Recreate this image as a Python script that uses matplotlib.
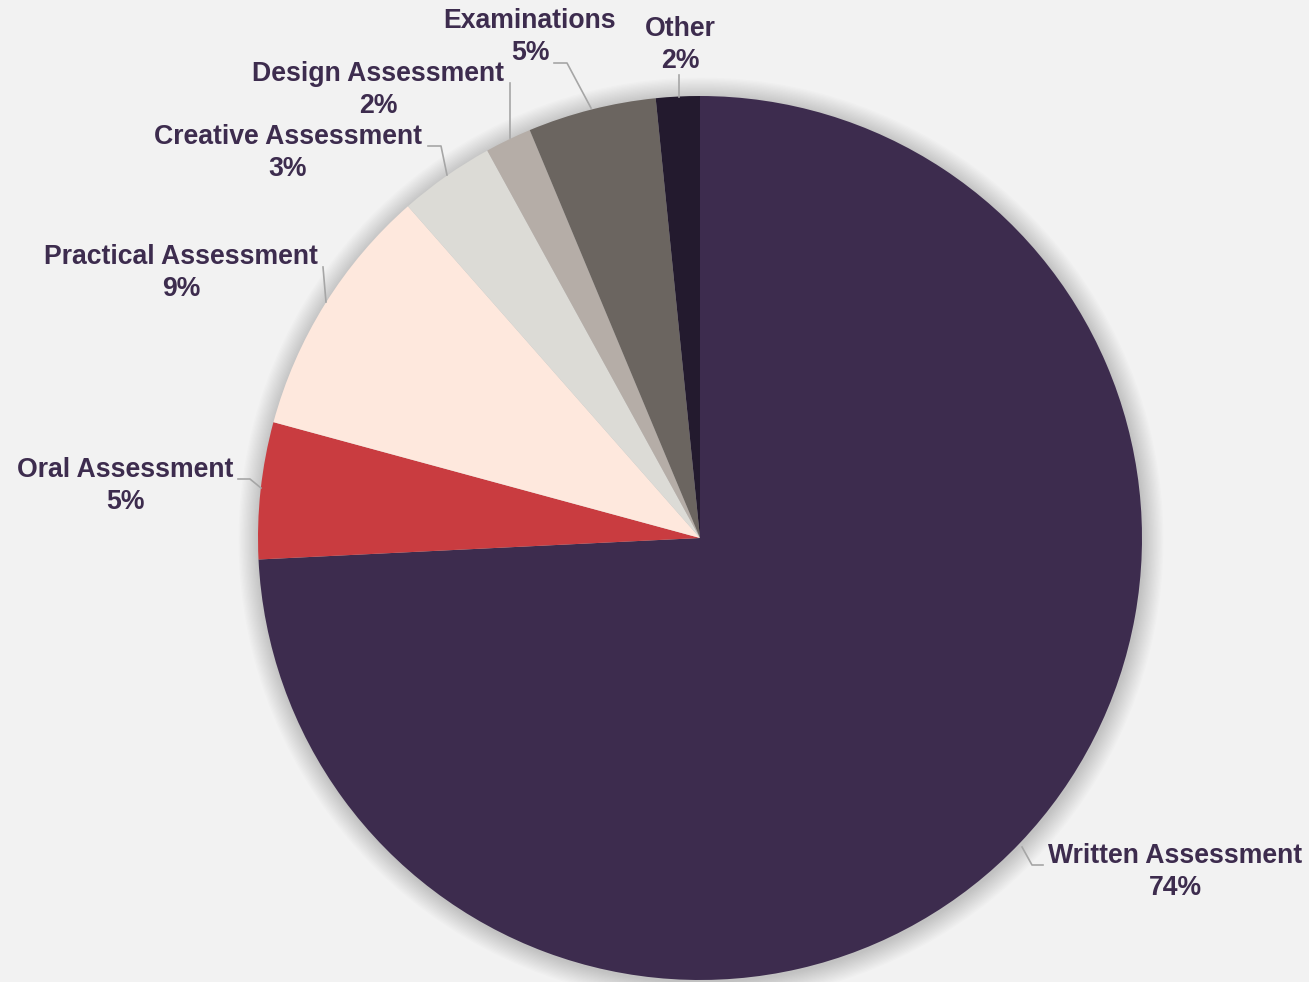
import matplotlib.pyplot as plt
from matplotlib.patches import Circle

# Data
categories = ["Written Assessment", "Oral Assessment", "Practical Assessment",
              "Creative Assessment", "Design Assessment", "Examinations", "Other"]
values = [74.3, 5.0, 9.3, 3.5, 1.7, 4.7, 1.6]
pct_labels = ["74%", "5%", "9%", "3%", "2%", "5%", "2%"]

colors = ["#3D2C4E", "#C93C40", "#FEE8DD", "#DCDBD6", "#B5ADA7", "#6B6560", "#231A2E"]

# Layout (pixel coordinates, y measured from the top)
center = (700, 538)
radius = 442
label_pos = [(1175, 872), (125, 486), (181, 273), (288, 153),
             (378, 90), (530, 37), (680, 45)]
leaders = [
    [(1022, 847), (1032, 865), (1043, 865)],
    [(238, 479), (250, 479), (261, 488)],
    [(323, 267), (326, 302)],
    [(428, 146), (441, 146), (447, 175)],
    [(510, 83), (510, 138)],
    [(554, 63), (567, 63), (591, 108)],
    [(679, 75), (679, 97)],
]

W, H = 1309, 982
fig = plt.figure(figsize=(W / 100, H / 100), dpi=100)
fig.patch.set_facecolor("#F2F2F2")
ax = fig.add_axes([0, 0, 1, 1])
ax.set_facecolor("#F2F2F2")

cx, cy = center[0], H - center[1]

# soft shadow around the pie
for i in range(16):
    ax.add_patch(Circle((cx + 1, cy - 2), radius + 1 + i * 1.3,
                        color="black", alpha=0.011, lw=0, zorder=1))

ax.pie(values, colors=colors, startangle=90, counterclock=False,
       center=(cx, cy), radius=radius, frame=True,
       wedgeprops=dict(linewidth=0, zorder=2))
ax.set_xlim(0, W)
ax.set_ylim(0, H)
ax.set_aspect("equal")
ax.axis("off")

for (x, y), name, pct in zip(label_pos, categories, pct_labels):
    ax.text(x, H - y, f"{name}\n{pct}", ha="center", va="center",
            fontsize=19.2, fontweight="bold", family="Liberation Sans",
            color="#3D2C4E", linespacing=1.28, zorder=5)

for pts in leaders:
    xs = [p[0] for p in pts]
    ys = [H - p[1] for p in pts]
    ax.plot(xs, ys, color="#A6A6A6", lw=1.2, zorder=4)

fig.savefig("out.png", dpi=100, facecolor=fig.get_facecolor())
